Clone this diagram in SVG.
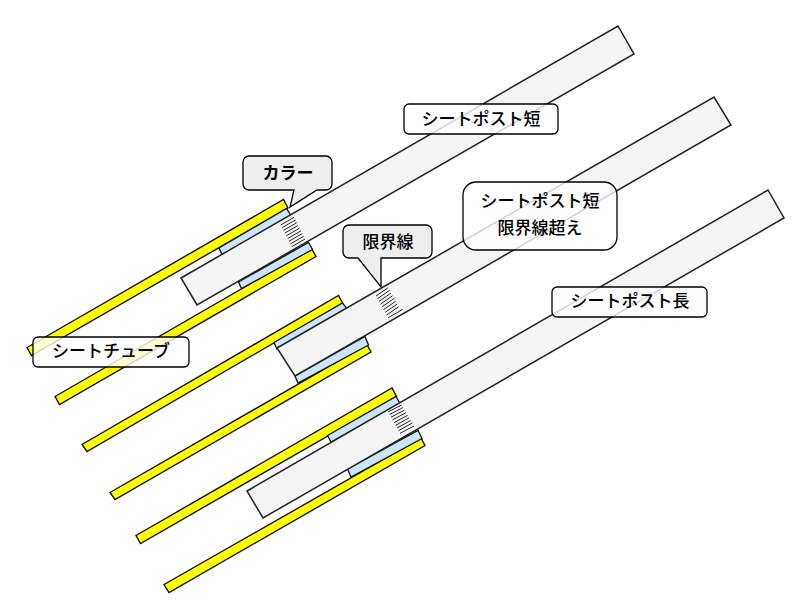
<svg xmlns="http://www.w3.org/2000/svg" width="806" height="601" viewBox="0 0 806 601">
<style>
.tube{fill:#ffff00;stroke:#111;stroke-width:1.4}
.collar{fill:#cce5ff;stroke:#111;stroke-width:1.3}
.post{fill:#f4f4f4;stroke:#222;stroke-width:1.5}
.hatch{stroke:#111;stroke-width:.9;fill:none}
.box{fill:#fff;fill-opacity:.8;stroke:#000;stroke-width:1.3}
.call{fill:#eee;stroke:#000;stroke-width:1.3}
text{font-family:"Noto Sans CJK JP","Noto Sans",sans-serif;font-size:17px;font-weight:500;text-anchor:middle;fill:#000}
.b{font-weight:700}
</style>
<g id="assembly-1">
<polygon class="tube" points="27,347.500 283.500,199.500 288,208 31.500,355.500"/>
<polygon class="tube" points="55,396.500 311.500,248.500 316,256.500 59.500,404.500"/>
<polygon class="collar" points="219,248 286.500,208.500 291,215.500 222,254.500"/>
<polygon class="collar" points="238.500,282 308.500,242.500 312.500,249.500 241.500,288.500"/>
<polygon class="post" points="181,278 618,26 634,54 197,305"/>
<path class="hatch" d="M280.700,225l13.300,-7.700M282.100,227.700l13.300,-7.700M283.400,230.400l13.300,-7.700M284.800,233.100l13.300,-7.700M286.200,235.900l13.300,-7.700M287.600,238.600l13.300,-7.700M288.900,241.300l13.300,-7.700M290.300,244l13.300,-7.700M291.700,246.700l13.300,-7.700"/>
</g>
<g id="assembly-2">
<polygon class="tube" points="82,444.500 338.500,295.500 342.500,303 87,451.500"/>
<polygon class="tube" points="110,492.500 367,344.500 371,352 115,499.500"/>
<polygon class="collar" points="274,342.500 342.500,303 347,308.500 277,349"/>
<polygon class="collar" points="295,376 365,336.500 368.500,345 298,383"/>
<polygon class="post" points="277,348 714,97 731,125 295,376"/>
<path class="hatch" d="M376,296l12,-8.300M377.500,298.700l12,-8.300M379,301.400l12,-8.300M380.500,304.100l12,-8.300M382.100,306.800l12,-8.300M383.600,309.600l12,-8.300M385.200,312.300l12,-8.300M386.700,315l12,-8.300M388.300,317.700l14.400,-8.300"/>
</g>
<g id="assembly-3">
<polygon class="tube" points="136,535.500 392,388 396.500,396.500 140.500,543.500"/>
<polygon class="tube" points="164,584.500 421,438 425,445.500 169,592.500"/>
<polygon class="collar" points="327.500,435.500 396,396.500 400,403.500 331,442"/>
<polygon class="collar" points="347.500,469 418,430.500 422,438.500 351,477"/>
<polygon class="post" points="247,491 768,190 784,218 263,518"/>
<path class="hatch" d="M388.300,411.700l13.400,-6.700M389.700,414.400l13.400,-6.900M391.100,417.100l13.400,-7M392.500,419.900l13.400,-7.200M394.200,422.600l13.400,-7.300M395.700,425.300l13.400,-7.500M397.100,428l13.600,-7.500M398.500,430.700l13.800,-7.700M400,433.300l14,-7.300"/>
</g>
<g id="label-seatpost-short">
<rect class="box" x="404" y="104" width="154" height="30" rx="5"/>
<text x="481" y="124.500">シートポスト短</text>
</g>
<g id="label-collar">
<path class="call" d="M249,156H326a6,6 0 0 1 6,6V184a6,6 0 0 1 -6,6H317L290,207 294,190H249a6,6 0 0 1 -6,-6V162a6,6 0 0 1 6,-6Z"/>
<text class="b" x="288" y="178.500">カラー</text>
</g>
<g id="label-limit">
<path class="call" d="M349,225H426a6,6 0 0 1 6,6V252a6,6 0 0 1 -6,6H381V287L358,258H349a6,6 0 0 1 -6,-6V231a6,6 0 0 1 6,-6Z"/>
<text x="388" y="247.500">限界線</text>
</g>
<g id="label-seatpost-short-over">
<rect class="box" x="463" y="182" width="154" height="68" rx="13"/>
<text x="540" y="206.500">シートポスト短</text>
<text x="540" y="233.500">限界線超え</text>
</g>
<g id="label-seatpost-long">
<rect class="box" x="552" y="287" width="155" height="30" rx="5"/>
<text x="630" y="306.500">シートポスト長</text>
</g>
<g id="label-seattube">
<rect class="box" x="33" y="337" width="156" height="30" rx="5"/>
<text x="111" y="356.500">シートチューブ</text>
</g>
</svg>
